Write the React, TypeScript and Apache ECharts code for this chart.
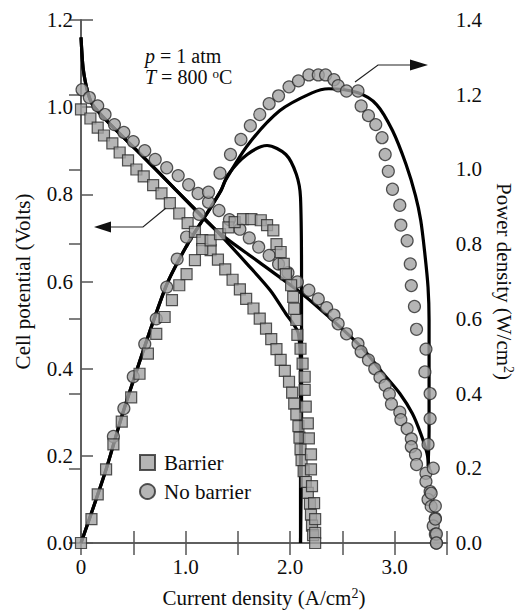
import React, { useEffect, useRef } from 'react';
import * as echarts from 'echarts';

const FONT = "'Liberation Serif', 'Times New Roman', serif";

// Measured data: current density (A/cm2) vs cell potential (V) / power density (W/cm2)
const barrierVoltage: [number, number][] = [
  [0.0, 0.995], [0.09, 0.974], [0.16, 0.953], [0.22, 0.935], [0.3, 0.917], [0.37, 0.896],
  [0.45, 0.878], [0.53, 0.857], [0.6, 0.841], [0.69, 0.821], [0.77, 0.802], [0.85, 0.78],
  [0.94, 0.756], [1.02, 0.734], [1.09, 0.714], [1.16, 0.695], [1.24, 0.672], [1.31, 0.65],
  [1.38, 0.628], [1.45, 0.604], [1.52, 0.582], [1.58, 0.56], [1.65, 0.538], [1.71, 0.515],
  [1.77, 0.492], [1.82, 0.468], [1.87, 0.445], [1.91, 0.42], [1.95, 0.395], [1.99, 0.37],
  [2.02, 0.345], [2.04, 0.32], [2.06, 0.295], [2.08, 0.268], [2.09, 0.242], [2.1, 0.215],
  [2.11, 0.19], [2.13, 0.165], [2.15, 0.14], [2.17, 0.115], [2.19, 0.09], [2.2, 0.065],
  [2.21, 0.04], [2.22, 0.018],
];

const barrierPower: [number, number][] = [
  [0.0, 0.0], [0.1, 0.064], [0.16, 0.13], [0.24, 0.197], [0.31, 0.264], [0.39, 0.325],
  [0.48, 0.39], [0.56, 0.453], [0.64, 0.507], [0.72, 0.56], [0.8, 0.605], [0.87, 0.65],
  [0.94, 0.69], [1.01, 0.72], [1.09, 0.757], [1.16, 0.787], [1.24, 0.81], [1.33, 0.827],
  [1.41, 0.845], [1.47, 0.859], [1.55, 0.867], [1.63, 0.867], [1.72, 0.864], [1.78, 0.851],
  [1.84, 0.837], [1.87, 0.8], [1.91, 0.779], [1.94, 0.747], [1.96, 0.72], [2.01, 0.69],
  [2.03, 0.659], [2.04, 0.627], [2.06, 0.597], [2.07, 0.557], [2.1, 0.52], [2.12, 0.48],
  [2.14, 0.445], [2.14, 0.41], [2.15, 0.365], [2.17, 0.32], [2.18, 0.28], [2.2, 0.237],
  [2.2, 0.197], [2.21, 0.152], [2.23, 0.107], [2.24, 0.064], [2.24, 0.027], [2.24, 0.0],
];

const noBarrierVoltage: [number, number][] = [
  [0.01, 1.04], [0.08, 1.022], [0.16, 1.003], [0.23, 0.983], [0.32, 0.96], [0.41, 0.942],
  [0.5, 0.921], [0.61, 0.9], [0.71, 0.88], [0.82, 0.861], [0.93, 0.843], [1.03, 0.822],
  [1.12, 0.802], [1.22, 0.782], [1.32, 0.763], [1.42, 0.742], [1.52, 0.72], [1.61, 0.7],
  [1.7, 0.679], [1.8, 0.66], [1.89, 0.64], [1.98, 0.62], [2.07, 0.599], [2.18, 0.58],
  [2.27, 0.56], [2.35, 0.54], [2.42, 0.523], [2.46, 0.503], [2.54, 0.48], [2.65, 0.457],
  [2.68, 0.439], [2.75, 0.42], [2.81, 0.4], [2.86, 0.38], [2.91, 0.362], [2.95, 0.342],
  [2.97, 0.319], [3.05, 0.3], [3.06, 0.283], [3.12, 0.262], [3.16, 0.239], [3.16, 0.221],
  [3.2, 0.203], [3.21, 0.18], [3.3, 0.16], [3.3, 0.141], [3.34, 0.118], [3.32, 0.1],
  [3.35, 0.084], [3.39, 0.057], [3.37, 0.039], [3.39, 0.02], [3.4, 0.0],
];

const noBarrierPower: [number, number][] = [
  [0.31, 0.285], [0.41, 0.36], [0.5, 0.445], [0.61, 0.533], [0.72, 0.6], [0.82, 0.685],
  [0.92, 0.76], [1.01, 0.819], [1.13, 0.88], [1.22, 0.939], [1.33, 0.99], [1.43, 1.04],
  [1.53, 1.08], [1.62, 1.117], [1.71, 1.147], [1.8, 1.176], [1.89, 1.197], [1.99, 1.221],
  [2.08, 1.237], [2.18, 1.253], [2.27, 1.253], [2.34, 1.253], [2.42, 1.24], [2.46, 1.224],
  [2.54, 1.21], [2.65, 1.21], [2.68, 1.17], [2.75, 1.144], [2.82, 1.12], [2.88, 1.085],
  [2.91, 1.04], [2.94, 0.995], [2.98, 0.947], [3.05, 0.904], [3.06, 0.851], [3.12, 0.809],
  [3.15, 0.747], [3.16, 0.689], [3.19, 0.633], [3.21, 0.572], [3.3, 0.519], [3.29, 0.458],
  [3.34, 0.4], [3.34, 0.333], [3.32, 0.264], [3.37, 0.2], [3.35, 0.133], [3.39, 0.099],
  [3.39, 0.064], [3.4, 0.024], [3.4, 0.0],
];

// Model curves
const barrierVoltageModel: [number, number][] = [
  [0.0, 1.16], [0.01, 1.12], [0.02, 1.09], [0.04, 1.06], [0.07, 1.03], [0.11, 1.006],
  [0.25, 0.968], [0.6, 0.885], [0.9, 0.812], [1.29, 0.718], [1.59, 0.64], [1.81, 0.58],
  [1.96, 0.526], [2.03, 0.503], [2.08, 0.48], [2.1, 0.4], [2.1, 0.0],
];

const noBarrierVoltageModel: [number, number][] = [
  [0.0, 1.16], [0.01, 1.12], [0.02, 1.09], [0.04, 1.06], [0.07, 1.03], [0.11, 1.006],
  [0.25, 0.968], [0.6, 0.885], [0.9, 0.812], [1.29, 0.718], [1.7, 0.645], [2.12, 0.571],
  [2.37, 0.519], [2.68, 0.45], [2.89, 0.389], [3.05, 0.343], [3.17, 0.297], [3.25, 0.251],
  [3.31, 0.206], [3.33, 0.17],
];

const barrierPowerModel: [number, number][] = [
  [0.0, 0.0], [0.24, 0.197], [0.41, 0.357], [0.81, 0.685], [1.02, 0.8], [1.2, 0.88],
  [1.34, 0.944], [1.41, 0.987], [1.59, 1.04], [1.78, 1.064], [1.96, 1.04], [2.06, 0.987],
  [2.1, 0.925], [2.11, 0.7], [2.11, 0.3], [2.1, 0.0],
];

const noBarrierPowerModel: [number, number][] = [
  [0.0, 0.0], [0.24, 0.197], [0.41, 0.357], [0.81, 0.685], [1.02, 0.8], [1.2, 0.88],
  [1.34, 0.944], [1.38, 0.97], [1.6, 1.067], [1.9, 1.157], [2.21, 1.205], [2.37, 1.216],
  [2.65, 1.205], [2.83, 1.173], [2.98, 1.104], [3.11, 1.013], [3.2, 0.93], [3.25, 0.864],
  [3.29, 0.773], [3.32, 0.685], [3.33, 0.597], [3.33, 0.445], [3.33, 0.3], [3.32, 0.205],
];

const xLabels = ['0', '1.0', '2.0', '3.0'];

const AXIS_COLOR = '#555';
const TEXT_COLOR = '#0d0d0d';
const MARKER_FILL = '#a2a2a2';
const MARKER_BORDER = '#2a2a2a';

export default function App() {
  const ref = useRef<HTMLDivElement>(null);

  useEffect(() => {
    document.body.style.margin = '0';
    if (!ref.current) return;
    const chart = echarts.init(ref.current, null, { renderer: 'svg' });

    const axisCommon = {
      axisLine: { show: true, lineStyle: { color: AXIS_COLOR, width: 1.5 } },
      axisTick: { show: true, inside: true, length: 12, lineStyle: { color: AXIS_COLOR, width: 1.5 } },
      splitLine: { show: false },
    };
    const labelStyle = { fontSize: 21, fontFamily: FONT, color: TEXT_COLOR };
    const nameStyle = {
      fontSize: 21,
      fontFamily: FONT,
      color: TEXT_COLOR,
      rich: {
        sup: { fontSize: 14, fontFamily: FONT, color: TEXT_COLOR, padding: [0, 0, 9, 0] },
      },
    };

    const lineSeries = (data: [number, number][], yAxisIndex: number) => ({
      type: 'line',
      data,
      yAxisIndex,
      symbol: 'none',
      smooth: 0.3,
      lineStyle: { color: '#000', width: 3.2 },
      z: 2,
      silent: true,
    });
    const markerStyle = { color: MARKER_FILL, borderColor: MARKER_BORDER, borderWidth: 1.2 };
    const scatterSeries = (name: string, data: [number, number][], yAxisIndex: number, symbol: string, z: number) => ({
      type: 'scatter',
      name,
      data,
      yAxisIndex,
      symbol,
      symbolSize: symbol === 'rect' ? 11 : 12,
      itemStyle: markerStyle,
      z,
    });

    chart.setOption({
      animation: false,
      backgroundColor: '#fff',
      grid: { left: 81, right: 65, top: 20, bottom: 66 },
      legend: {
        left: 139,
        top: 452,
        orient: 'vertical',
        padding: 0,
        itemWidth: 15,
        itemHeight: 15,
        itemGap: 8,
        textStyle: { fontSize: 21, fontFamily: FONT, color: TEXT_COLOR, padding: [0, 0, 0, 4], lineHeight: 21 },
        data: [
          { name: 'Barrier', icon: 'rect' },
          { name: 'No barrier', icon: 'circle' },
        ],
      },
      xAxis: [
        {
          type: 'value',
          position: 'bottom',
          min: 0,
          max: 3.5,
          interval: 0.5,
          ...axisCommon,
          axisLabel: {
            ...labelStyle,
            margin: 13,
            formatter: (v: number) => (Number.isInteger(v) ? xLabels[v] ?? '' : ''),
          },
          name: 'Current density (A/cm{sup|2})',
          nameLocation: 'middle',
          nameGap: 43,
          nameTextStyle: nameStyle,
        },
        {
          type: 'value',
          position: 'top',
          min: 0,
          max: 3.5,
          interval: 0.5,
          ...axisCommon,
          axisLabel: { show: false },
        },
      ],
      yAxis: [
        {
          type: 'value',
          position: 'left',
          min: 0,
          max: 1.2,
          interval: 0.2,
          ...axisCommon,
          axisLabel: { ...labelStyle, margin: 8, formatter: (v: number) => v.toFixed(1) },
          name: 'Cell potential (Volts)',
          nameLocation: 'middle',
          nameRotate: 90,
          nameGap: 48,
          nameTextStyle: nameStyle,
        },
        {
          type: 'value',
          position: 'right',
          min: 0,
          max: 1.4,
          interval: 0.2,
          ...axisCommon,
          axisLabel: { ...labelStyle, margin: 9, formatter: (v: number) => v.toFixed(1) },
          name: 'Power density (W/cm{sup|2})',
          nameLocation: 'middle',
          nameRotate: -90,
          nameGap: 42,
          nameTextStyle: nameStyle,
        },
      ],
      series: [
        lineSeries(barrierVoltageModel, 0),
        lineSeries(noBarrierVoltageModel, 0),
        lineSeries(barrierPowerModel, 1),
        lineSeries(noBarrierPowerModel, 1),
        scatterSeries('No barrier', noBarrierVoltage, 0, 'circle', 3),
        scatterSeries('No barrier', noBarrierPower, 1, 'circle', 3),
        scatterSeries('Barrier', barrierVoltage, 0, 'rect', 4),
        scatterSeries('Barrier', barrierPower, 1, 'rect', 4),
      ],
      graphic: [
        {
          type: 'text',
          x: 145,
          y: 46,
          z: 10,
          style: {
            text: '{i|p} = 1 atm',
            fontSize: 20,
            lineHeight: 20,
            fontFamily: FONT,
            fill: TEXT_COLOR,
            align: 'left',
            verticalAlign: 'top',
            rich: {
              i: { fontStyle: 'italic', fontSize: 20, lineHeight: 20, fontFamily: FONT, fill: TEXT_COLOR },
            },
          },
        },
        {
          type: 'text',
          x: 145,
          y: 67,
          z: 10,
          style: {
            text: '{i|T} = 800 {sup|o}C',
            fontSize: 20,
            lineHeight: 20,
            fontFamily: FONT,
            fill: TEXT_COLOR,
            align: 'left',
            verticalAlign: 'top',
            rich: {
              i: { fontStyle: 'italic', fontSize: 20, lineHeight: 20, fontFamily: FONT, fill: TEXT_COLOR },
              sup: { fontSize: 13, lineHeight: 13, verticalAlign: 'top', fontFamily: FONT, fill: TEXT_COLOR },
            },
          },
        },
        {
          type: 'polyline',
          shape: { points: [[355, 82], [378, 65], [412, 65]] },
          style: { stroke: '#222', lineWidth: 1.2, fill: 'none' },
          z: 10,
        },
        {
          type: 'polygon',
          shape: { points: [[410, 59.5], [428, 65], [410, 70.5]] },
          style: { fill: '#111' },
          z: 10,
        },
        {
          type: 'polyline',
          shape: { points: [[166, 208], [143, 227], [108, 227]] },
          style: { stroke: '#222', lineWidth: 1.2, fill: 'none' },
          z: 10,
        },
        {
          type: 'polygon',
          shape: { points: [[111, 221.5], [94, 227], [111, 232.5]] },
          style: { fill: '#111' },
          z: 10,
        },
      ],
    });

    return () => chart.dispose();
  }, []);

  return <div ref={ref} style={{ width: 523, height: 613 }} />;
}
